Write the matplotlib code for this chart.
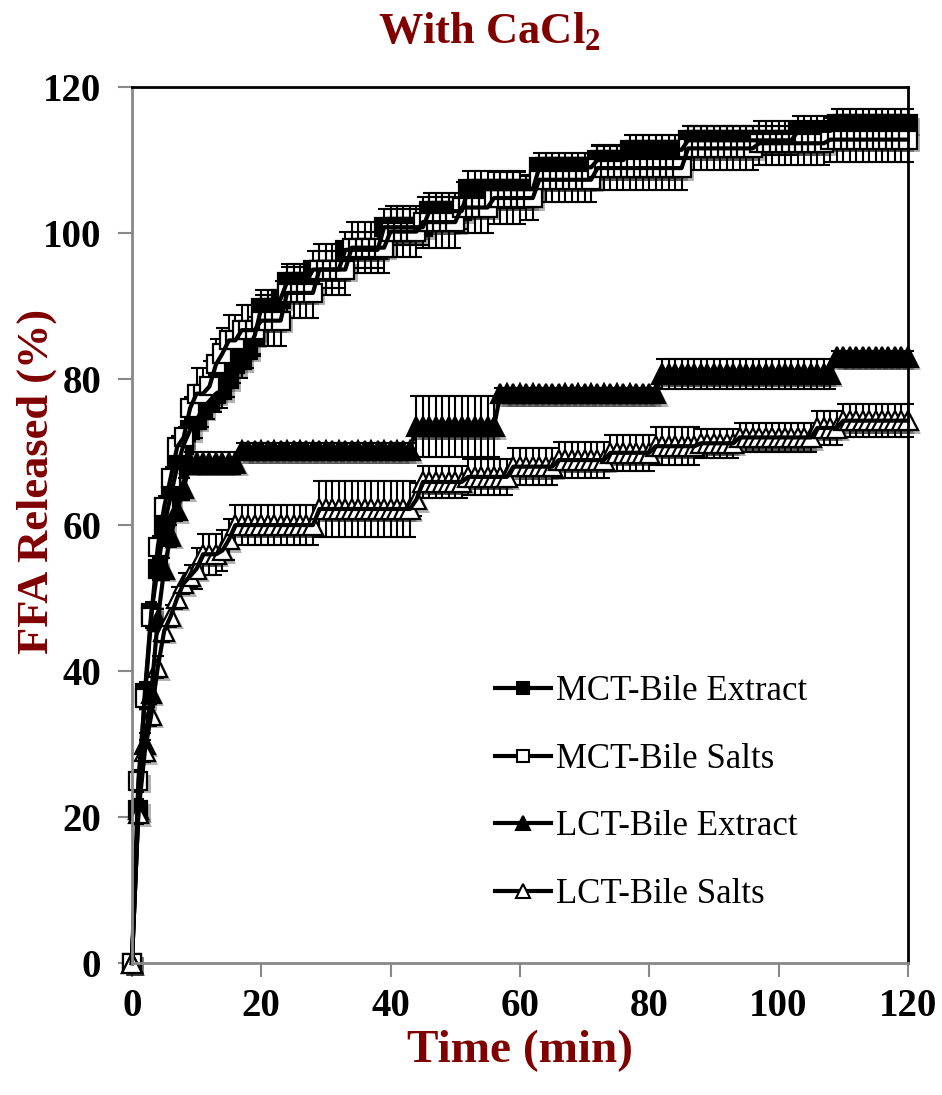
import matplotlib
matplotlib.use('Agg')
import matplotlib.pyplot as plt
import matplotlib.patheffects as pe
from matplotlib.lines import Line2D
import numpy as np

plt.rcParams['font.family'] = 'Liberation Serif'
plt.rcParams['mathtext.fontset'] = 'custom'
plt.rcParams['mathtext.rm'] = 'Liberation Serif'
plt.rcParams['mathtext.bf'] = 'Liberation Serif:bold'

# time points (min), one reading per minute
time_min = list(range(0, 121))

# FFA released (%)
mct_extract = ([0, 21, 37, 48, 54, 60, 64, 68, 71, 73, 74.4, 76, 77, 78, 78.5, 80, 82, 82.6, 84, 86]
               + [89.7] * 3 + [91] + [93.3] * 4 + [95] * 5 + [97.7] * 6 + [100.8] * 7
               + [103] * 6 + [106] * 11 + [109] * 9 + [110] * 5 + [111.4] * 9
               + [112.7] * 17 + [114] * 6 + [115] * 12)
mct_salts = ([0, 25, 36.3, 47.4, 57, 62.5, 66.5, 70.7, 72, 76, 78, 78, 79, 82, 83.5, 85.3, 85.3]
             + [86.7] * 3 + [88] * 4 + [91.8] * 5 + [95] * 5 + [98] * 6 + [100.2] * 5
             + [101.5] * 6 + [103.5] * 5 + [104.8] * 7 + [107.3] * 9 + [108.9] * 14
             + [111.6] * 11 + [112.3] * 11 + [112.8] * 13)
lct_extract = ([0, 21, 30, 37, 47, 54, 58.5, 62, 65]
               + [68.5] * 8 + [70.2] * 27 + [73.5] * 13 + [78] * 25 + [80.7] * 27 + [83] * 12)
lct_salts = ([0, 20.5, 29, 34, 40.5, 45.5, 47.5, 50, 52, 53, 54, 56, 56, 56, 56.5, 58]
             + [60] * 13 + [62.2] * 15 + [63.5] + [65.9] * 7 + [66.6] * 7 + [68] * 7
             + [68.9] * 8 + [69.9] * 7 + [70.8] * 7 + [71.2] * 6 + [72] * 12
             + [73.3] * 4 + [74.3] * 11)

# error bars (+/-)
mct_extract_err = [0] + [1.5] * 9 + [2.5] * 51 + [2] * 60
mct_salts_err = [0] + [1.5] * 9 + [3.5] * 51 + [3] * 60
lct_extract_err = [0] + [1.5] * 8 + [1.5] * 8 + [1] * 27 + [4.2] * 13 + [0.8] * 25 + [2] * 27 + [0.8] * 12
lct_salts_err = ([0] + [1.5] * 9 + [2.8] * 6 + [2.7] * 13 + [3.8] * 15 + [2.2] * 8
                 + [2.5] * 29 + [2.6] * 7 + [2] * 18 + [2.3] * 15)

labels = ['MCT-Bile Extract', 'MCT-Bile Salts', 'LCT-Bile Extract', 'LCT-Bile Salts']
series = [mct_extract, mct_salts, lct_extract, lct_salts]
errors = [mct_extract_err, mct_salts_err, lct_extract_err, lct_salts_err]
markers = ['s', 's', '^', '^']
faces = ['black', 'white', 'black', 'white']
sizes = [13, 13, 14, 14]

dark_red = '#800000'

fig = plt.figure(figsize=(9.42, 10.95), dpi=100)
ax = fig.add_axes([0.140, 0.1205, 0.8238, 0.800])

shadow = [pe.SimplePatchShadow(offset=(2.5, -2.5), shadow_rgbFace='black', alpha=0.3), pe.Normal()]

handles = []
for y, e, m, fc, ms, lab in zip(series, errors, markers, faces, sizes, labels):
    eb = ax.errorbar(time_min, y, yerr=e, fmt='-', color='black', lw=3,
                     elinewidth=1.5, capsize=4, capthick=1.5)
    for art in [eb.lines[0]] + list(eb.lines[1]) + list(eb.lines[2]):
        art.set_clip_on(False)
    ax.plot(time_min, y, ls='none', marker=m, ms=ms, mfc=fc, mec='black',
            mew=1.6, path_effects=shadow, clip_on=False)
    handles.append(Line2D([], [], color='black', lw=3, marker=m, ms=ms - 4,
                          mfc=fc, mec='black', mew=1.5))

ax.set_xlim(0, 120)
ax.set_ylim(0, 120)
ax.set_xticks(range(0, 121, 20))
ax.set_yticks(range(0, 121, 20))

for side in ['top', 'right']:
    ax.spines[side].set_color('black')
    ax.spines[side].set_linewidth(2)
for side in ['left', 'bottom']:
    ax.spines[side].set_color('#888888')
    ax.spines[side].set_linewidth(2)

ax.tick_params(axis='both', direction='out', length=10, width=1.5, color='#888888',
               labelsize=28)
ax.tick_params(axis='y', pad=12)
ax.tick_params(axis='x', pad=8)
for lbl in ax.get_xticklabels() + ax.get_yticklabels():
    lbl.set_fontweight('bold')

ax.set_xlabel('Time (min)', fontsize=34, fontweight='bold', color=dark_red, labelpad=3)
ax.set_ylabel('FFA Released (%)', fontsize=32, fontweight='bold', color=dark_red)
ax.yaxis.set_label_coords(-0.097, 0.55)
fig.text(0.52, 1 - 32 / 1095, r'With CaCl$_\mathbf{2}$', fontsize=32, fontweight='bold',
         color=dark_red, ha='center', va='center')

ax.legend(handles, labels, loc='upper left', bbox_to_anchor=(495 / 942, 1 - 675 / 1095),
          bbox_transform=fig.transFigure, frameon=False, fontsize=25, handlelength=1.6,
          handletextpad=0.15, labelspacing=1.0, borderpad=0, borderaxespad=0)

fig.savefig('out.png', dpi=100)
